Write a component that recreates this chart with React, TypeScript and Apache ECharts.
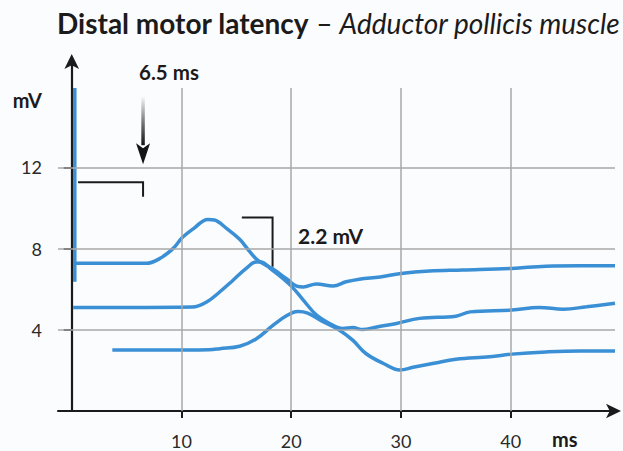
import React, { useEffect, useRef } from "react";
import * as echarts from "echarts";

// ---- data (ms, mV) ----
const stimulusArtifact = [[0.28, 15.9], [0.28, 6.36]];
const trace1 = [
  [0.28, 7.27], [3, 7.27], [6.8, 7.27], [8.0, 7.5], [9.2, 7.98], [10.1, 8.55], [11.1, 8.98],
  [12.4, 9.43], [13.0, 9.4], [14.1, 8.99], [15.3, 8.45], [16.2, 7.86], [17.0, 7.4], [18.3, 7.0],
  [19.6, 6.5], [20.5, 6.15], [21.1, 6.11], [22.3, 6.25], [23.8, 6.16], [25.0, 6.36], [26.2, 6.49],
  [28.1, 6.6], [30.0, 6.77], [32.6, 6.89], [35.6, 6.94], [40.1, 7.02], [43.2, 7.13], [46.3, 7.15], [49.5, 7.15],
];
const trace2 = [
  [0.13, 5.1], [5, 5.1], [11.0, 5.12], [12.3, 5.37], [13.5, 5.87], [14.7, 6.44], [15.9, 7.02],
  [16.8, 7.33], [17.2, 7.33], [18.3, 6.92], [19.4, 6.45], [20.1, 6.1], [21.1, 5.46], [22.3, 4.72],
  [23.5, 4.31], [24.7, 4.06], [25.6, 4.11], [26.5, 4.01], [27.8, 4.14], [29.6, 4.31], [31.7, 4.56],
  [35.0, 4.67], [36.3, 4.88], [40.1, 4.97], [42.6, 5.1], [44.8, 5.01], [46.9, 5.13], [49.5, 5.3],
];
const trace3 = [
  [3.7, 3.0], [8, 3.0], [12.5, 3.02], [13.5, 3.07], [15.3, 3.19], [16.8, 3.55], [18.3, 4.2],
  [19.6, 4.7], [20.6, 4.9], [21.5, 4.82], [22.9, 4.39], [24.4, 3.98], [25.6, 3.49], [26.8, 2.83],
  [28.4, 2.34], [29.9, 2.02], [31.1, 2.15], [33, 2.35], [35.0, 2.55], [38.1, 2.67], [40.1, 2.8],
  [43.2, 2.91], [46.3, 2.96], [49.5, 2.95],
];
const xTicks = [10, 20, 30, 40];
const yTicks = [4, 8, 12];
const gridTop = 15.9;
const latencyMs = 6.5;
const latencyBracket = [[0.58, 11.26], [6.5, 11.26], [6.5, 10.55]];
const amplitudeBracket = [[15.5, 9.53], [18.3, 9.53], [18.3, 7.1]];
const latencyArrow = { x: 6.5, top: 15.45, tip: 12.15 };

const X_MIN = -1.25;
const X_MAX = 49.5;
const Y_MIN = 0;
const Y_MAX = 17.28;

const BLUE = "#3a8fd5";
const INK = "#1b1b1b";
const GRID = "#a9a9a9";
const FONT = "Lato";

export default function App() {
  const ref = useRef<HTMLDivElement>(null);
  useEffect(() => {
    const chart = echarts.init(ref.current as HTMLDivElement, null, { renderer: "svg" });
    const lineSeries = (name: string, data: number[][]) => ({
      name,
      type: "line",
      data,
      showSymbol: false,
      smooth: 0.4,
      z: 3,
      lineStyle: { color: BLUE, width: 3.5 },
      silent: true,
    });
    chart.setOption({
      animation: false,
      backgroundColor: "#fbfcfe",
      grid: { left: 58, right: 8, top: 60, bottom: 40 },
      xAxis: {
        type: "value",
        min: X_MIN,
        max: X_MAX,
        splitLine: { show: false },
        axisLine: {
          show: true,
          onZero: false,
          lineStyle: { color: INK, width: 2.2 },
          symbol: ["none", "arrow"],
          symbolSize: [11, 15],
          symbolOffset: [0, 6],
        },
        axisTick: { show: true, customValues: xTicks, length: 7, lineStyle: { color: INK, width: 2 } },
        axisLabel: {
          customValues: xTicks,
          margin: 21,
          fontFamily: FONT,
          fontSize: 18,
          color: "#2a2a2a",
        },
      },
      yAxis: {
        type: "value",
        min: Y_MIN,
        max: Y_MAX,
        splitLine: { show: false },
        axisLine: {
          show: true,
          lineStyle: { color: INK, width: 2.2 },
          symbol: ["none", "arrow"],
          symbolSize: [11, 15],
          symbolOffset: [0, 6],
        },
        axisTick: { show: true, customValues: yTicks, length: 8, lineStyle: { color: INK, width: 2 } },
        axisLabel: {
          customValues: yTicks,
          margin: 16,
          fontFamily: FONT,
          fontSize: 18,
          color: "#2a2a2a",
        },
      },
      series: [
        {
          type: "line",
          data: [],
          z: 1,
          silent: true,
          markLine: {
            silent: true,
            symbol: ["none", "none"],
            label: { show: false },
            lineStyle: { color: GRID, width: 1.5, type: "solid" },
            data: [
              ...yTicks.map((v) => ({ yAxis: v })),
              ...xTicks.map((v) => [{ coord: [v, 0] }, { coord: [v, gridTop] }]),
            ],
          },
        },
        { ...lineSeries("artifact", stimulusArtifact), smooth: false },
        lineSeries("trace1", trace1),
        lineSeries("trace2", trace2),
        lineSeries("trace3", trace3),
      ],
    });

    const p = (pt: number[]) => chart.convertToPixel({ gridIndex: 0 }, pt) as number[];
    const ab = latencyBracket.map(p);
    const mb = amplitudeBracket.map(p);
    const aTop = p([latencyArrow.x, latencyArrow.top]);
    const aTip = p([latencyArrow.x, latencyArrow.tip]);
    const headH = 21;
    const headW = 14;
    const shaftW = 3.5;

    chart.setOption({
      graphic: [
        {
          type: "text",
          x: 57,
          y: 23,
          style: {
            text: "{b|Distal motor latency}{n| – }{i|Adductor pollicis muscle}",
            verticalAlign: "middle",
            rich: {
              b: { fontFamily: FONT, fontWeight: "bold", fontSize: 28, fill: INK },
              n: { fontFamily: FONT, fontSize: 28, fill: INK },
              i: { fontFamily: FONT, fontStyle: "italic", fontSize: 28, fill: INK },
            },
          },
        },
        {
          type: "text",
          x: 42,
          y: 100,
          style: {
            text: "mV",
            fontFamily: FONT,
            fontWeight: "bold",
            fontSize: 20,
            fill: INK,
            align: "right",
            verticalAlign: "middle",
          },
        },
        {
          type: "text",
          x: 552,
          y: 439,
          style: {
            text: "ms",
            fontFamily: FONT,
            fontWeight: "bold",
            fontSize: 20,
            fill: INK,
            align: "left",
            verticalAlign: "middle",
          },
        },
        {
          type: "text",
          x: 169,
          y: 72,
          style: {
            text: `${latencyMs} ms`,
            fontFamily: FONT,
            fontWeight: "bold",
            fontSize: 20.5,
            fill: INK,
            align: "center",
            verticalAlign: "middle",
          },
        },
        {
          type: "text",
          x: 298,
          y: 235,
          style: {
            text: "2.2 mV",
            fontFamily: FONT,
            fontWeight: "bold",
            fontSize: 21,
            fill: INK,
            align: "left",
            verticalAlign: "middle",
          },
        },
        {
          type: "polyline",
          shape: { points: ab },
          style: { stroke: INK, lineWidth: 2, fill: null },
        },
        {
          type: "polyline",
          shape: { points: mb },
          style: { stroke: INK, lineWidth: 2, fill: null },
        },
        {
          type: "rect",
          shape: {
            x: aTop[0] - shaftW / 2,
            y: aTop[1],
            width: shaftW,
            height: aTip[1] - headH - aTop[1] + 2,
          },
          style: {
            fill: new echarts.graphic.LinearGradient(0, 0, 0, 1, [
              { offset: 0, color: "rgba(20,20,20,0.03)" },
              { offset: 0.55, color: "rgba(20,20,20,0.6)" },
              { offset: 1, color: "rgba(20,20,20,1)" },
            ]),
          },
        },
        {
          type: "polygon",
          shape: {
            points: [
              [aTip[0], aTip[1]],
              [aTip[0] - headW / 2, aTip[1] - headH],
              [aTip[0], aTip[1] - headH + 5],
              [aTip[0] + headW / 2, aTip[1] - headH],
            ],
          },
          style: { fill: "#141414" },
        },
      ],
    });
    return () => chart.dispose();
  }, []);
  return (
    <div
      ref={ref}
      style={{ position: "absolute", left: 0, top: 0, width: 623, height: 451 }}
    />
  );
}
